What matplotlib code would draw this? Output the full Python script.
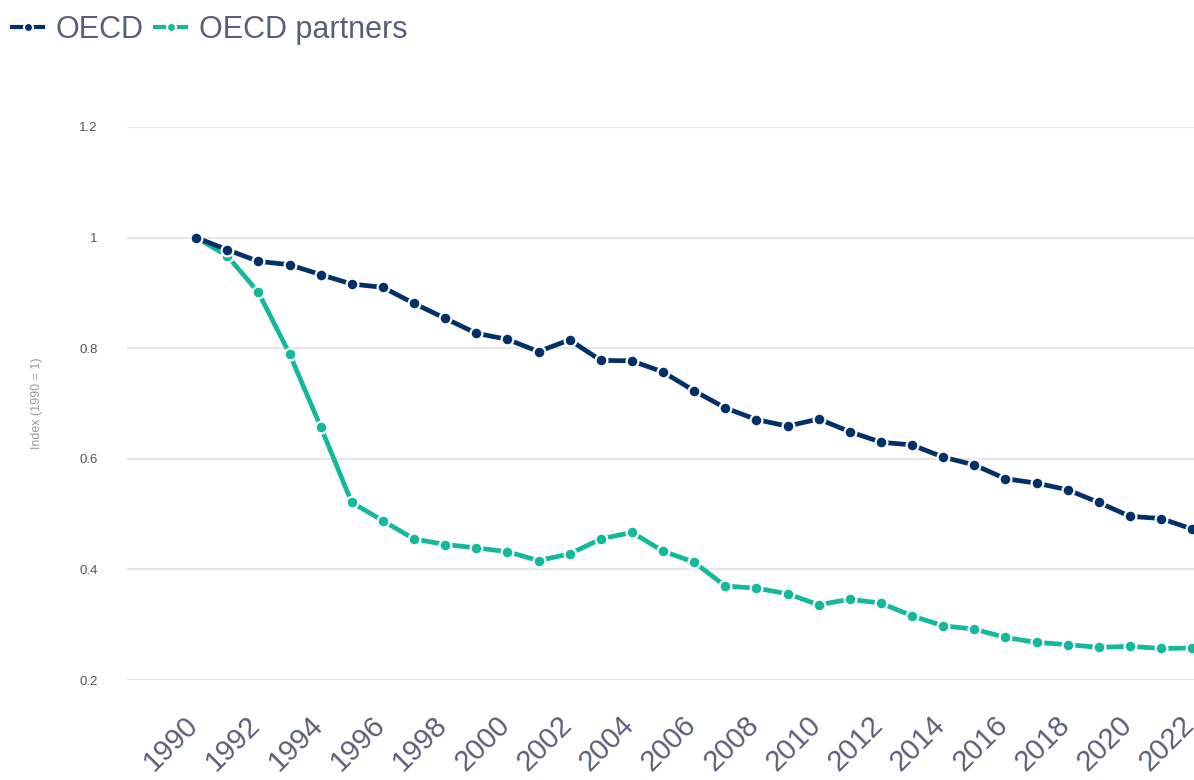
import matplotlib
matplotlib.use("Agg")
import matplotlib.pyplot as plt
import matplotlib.transforms as mtransforms
from matplotlib.lines import Line2D

plt.rcParams["font.family"] = ["Liberation Sans", "DejaVu Sans"]

NAVY = "#03306b"
TEAL = "#12b99a"
SLATE = "#586078"

years = list(range(1990, 2023))
oecd = [1.000, 0.978, 0.957, 0.951, 0.933, 0.916, 0.910, 0.881, 0.854, 0.827,
        0.816, 0.794, 0.815, 0.778, 0.777, 0.757, 0.723, 0.692, 0.671, 0.659,
        0.672, 0.649, 0.630, 0.625, 0.603, 0.589, 0.564, 0.556, 0.544, 0.521,
        0.496, 0.492, 0.473]
partners = [1.000, 0.967, 0.901, 0.790, 0.658, 0.521, 0.488, 0.455, 0.445, 0.439,
            0.432, 0.416, 0.428, 0.455, 0.467, 0.433, 0.413, 0.370, 0.366, 0.356,
            0.336, 0.346, 0.339, 0.316, 0.298, 0.292, 0.277, 0.268, 0.264, 0.259,
            0.261, 0.257, 0.258]
series_names = ["OECD", "OECD partners"]
yticks = [0.2, 0.4, 0.6, 0.8, 1.0, 1.2]
ytick_labels = ["0.2", "0.4", "0.6", "0.8", "1", "1.2"]

fig = plt.figure(figsize=(11.94, 7.8), dpi=100)
ax = fig.add_axes([0.1064, 0.1282, 0.8936, 0.709])

style = dict(lw=3.4, marker="o", ms=8.5, mec="white", mew=1.6, clip_on=False,
             solid_capstyle="butt")
ax.plot(years, oecd, color=NAVY, zorder=3, **style)
ax.plot(years, partners, color=TEAL, zorder=2, **style)

ax.set_xlim(1987.78, 2022.06)
ax.set_ylim(0.2, 1.2)
ax.set_yticks(yticks)
ax.set_yticklabels(ytick_labels)
ax.set_xticks(years[::2])
ax.set_xticklabels([str(y) for y in years[::2]], rotation=45, ha="right",
                   va="top", rotation_mode="anchor")
ax.tick_params(axis="x", length=0, pad=22, labelsize=21, labelcolor=SLATE)
ax.tick_params(axis="y", length=0, pad=21, labelsize=9.5, labelcolor="#555555")
shift = mtransforms.ScaledTranslation(-12 / 100, 0, fig.dpi_scale_trans)
for lab in ax.get_xticklabels():
    lab.set_transform(lab.get_transform() + shift)
ax.grid(axis="y", color="#e6e6e6", lw=1.5)
ax.set_axisbelow(True)
for s in ax.spines.values():
    s.set_visible(False)
ax.set_ylabel("Index (1990 = 1)", fontsize=9, color="#9a9a9a", labelpad=26)

handles = [Line2D([], [], color=c, lw=3, marker="o", ms=6.5, mec="white", mew=1.5,
                  solid_capstyle="butt") for c in (NAVY, TEAL)]
fig.legend(handles, series_names, loc="upper left", bbox_to_anchor=(-0.0095, 1.008),
           ncol=2, frameon=False, fontsize=22, labelcolor=SLATE,
           handlelength=1.15, handletextpad=0.35, columnspacing=0.3,
           borderaxespad=0.3)

fig.savefig("out.png", dpi=100, facecolor="white")
